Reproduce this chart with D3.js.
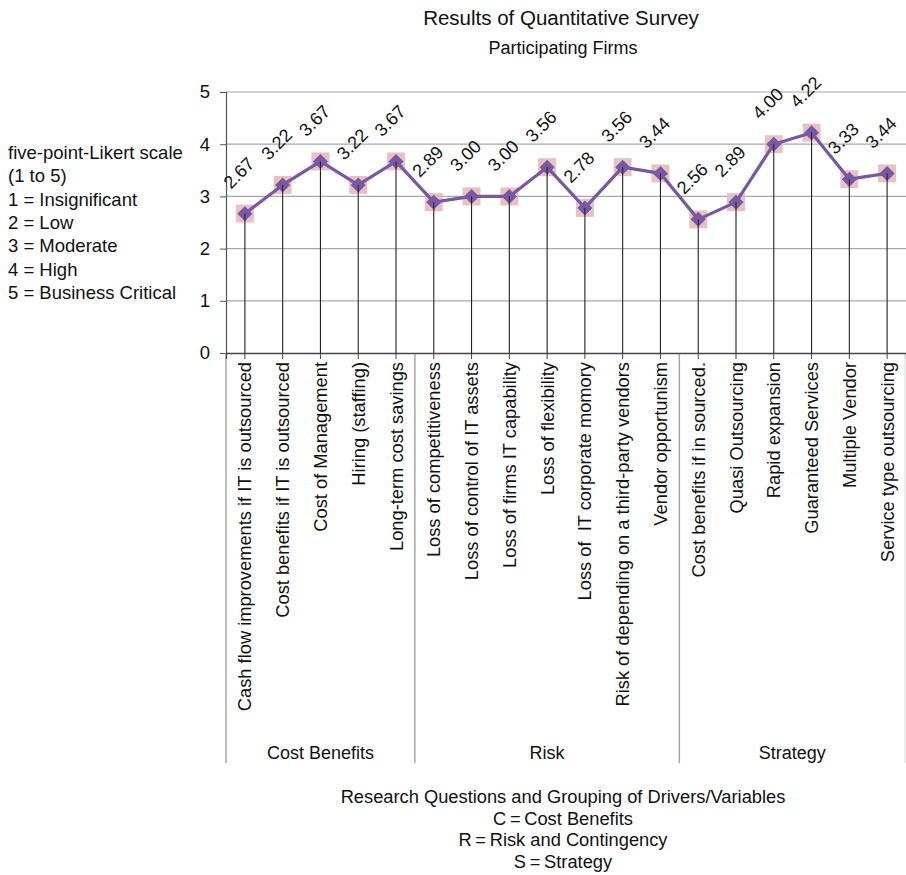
<!DOCTYPE html>
<html>
<head>
<meta charset="utf-8">
<script src="https://cdn.jsdelivr.net/npm/d3@7"></script>
<style>
  html, body { margin: 0; padding: 0; background: #fff; }
  svg { display: block; font-family: "Liberation Sans", Arial, Helvetica, sans-serif; }
</style>
</head>
<body>
<svg id="chart" width="906" height="875"></svg>
<script>
// Survey drivers, their mean scores and the groups they belong to
const categories = [
  "Cash flow improvements if IT is outsourced",
  "Cost benefits if IT is outsourced",
  "Cost of Management",
  "Hiring (staffing)",
  "Long-term cost savings",
  "Loss of competitiveness",
  "Loss of control of IT assets",
  "Loss of firms IT capability",
  "Loss of flexibility",
  "Loss of  IT corporate momory",
  "Risk of depending on a third-party vendors",
  "Vendor opportunism",
  "Cost benefits if in sourced.",
  "Quasi Outsourcing",
  "Rapid expansion",
  "Guaranteed Services",
  "Multiple Vendor",
  "Service type outsourcing"
];
const scores = [2.67, 3.22, 3.67, 3.22, 3.67, 2.89, 3.00, 3.00, 3.56, 2.78, 3.56, 3.44, 2.56, 2.89, 4.00, 4.22, 3.33, 3.44];
const groupNames = ["Cost Benefits", "Risk", "Strategy"];
const groupSizes = [5, 7, 6];
const yTicks = [0, 1, 2, 3, 4, 5];
const legendLines = [
  "five-point-Likert scale",
  "(1 to 5)",
  "1 = Insignificant",
  "2 = Low",
  "3 = Moderate",
  "4 = High",
  "5 = Business Critical"
];
const titleText = "Results of Quantitative Survey";
const subtitleText = "Participating Firms";
const footerLines = [
  "Research Questions and Grouping of Drivers/Variables",
  "C\u2009=\u2009Cost Benefits",
  "R\u2009=\u2009Risk and Contingency",
  "S\u2009=\u2009Strategy"
];

const svg = d3.select("#chart");
const plot = { left: 226, right: 906, top: 92, bottom: 353 };
const groupBottom = 763;
const lineColor = "#7658a3";
const textColor = "#111";

const x = d3.scaleBand().domain(d3.range(categories.length))
  .range([plot.left, plot.right]).paddingInner(0).paddingOuter(0);
const cx = i => x(i) + x.bandwidth() / 2;
const y = d3.scaleLinear().domain([0, 5]).range([plot.bottom, plot.top]);

// Titles
svg.append("text").attr("x", 561).attr("y", 25).attr("text-anchor", "middle")
  .attr("font-size", 20.5).attr("fill", textColor).text(titleText);
svg.append("text").attr("x", 563).attr("y", 54).attr("text-anchor", "middle")
  .attr("font-size", 18).attr("fill", textColor).text(subtitleText);

// Horizontal gridlines
svg.append("g").selectAll("line").data(yTicks.filter(d => d > 0)).join("line")
  .attr("x1", plot.left).attr("x2", plot.right)
  .attr("y1", d => y(d)).attr("y2", d => y(d))
  .attr("stroke", "#a8a8a8").attr("stroke-width", 1.2);

// Y axis
const yAxis = svg.append("g").attr("transform", `translate(${plot.left},0)`)
  .call(d3.axisLeft(y).tickValues(yTicks).tickFormat(d3.format("d")).tickSize(6).tickPadding(10));
yAxis.select(".domain").attr("stroke", "#555").attr("stroke-width", 1.2);
yAxis.selectAll(".tick line").attr("stroke", "#555");
yAxis.selectAll(".tick text").attr("font-size", 18.5).attr("fill", textColor)
  .attr("font-family", "Liberation Sans, Arial, sans-serif");

// Group separators below the axis
let acc = 0;
const bounds = [0];
groupSizes.forEach(s => { acc += s; bounds.push(acc); });
const boundX = b => b < categories.length ? x(b) : plot.right - 1;
svg.append("g").selectAll("line").data(bounds).join("line")
  .attr("x1", boundX).attr("x2", boundX)
  .attr("y1", plot.bottom).attr("y2", groupBottom)
  .attr("stroke", (d, i) => i === bounds.length - 1 ? "#e6e6e6" : "#a8a8a8")
  .attr("stroke-width", 1.5);

// Group labels
svg.append("g").selectAll("text").data(groupNames).join("text")
  .attr("x", (d, i) => (boundX(bounds[i]) + boundX(bounds[i + 1])) / 2)
  .attr("y", 759).attr("text-anchor", "middle").attr("font-size", 18).attr("fill", textColor)
  .text(d => d);

// X axis with ticks at category centres
const xAxis = svg.append("g").attr("transform", `translate(0,${plot.bottom})`)
  .call(d3.axisBottom(x).tickSize(6).tickFormat(""));
xAxis.select(".domain").attr("stroke", "#444").attr("stroke-width", 1.3);
xAxis.selectAll(".tick line").attr("stroke", "#444");

// Rotated category labels
svg.append("g").selectAll("text").data(categories).join("text")
  .attr("transform", (d, i) => `translate(${cx(i) + 6.5},${plot.bottom + 9}) rotate(-90)`)
  .attr("text-anchor", "end").attr("font-size", 18.3).attr("fill", textColor)
  .style("white-space", "pre")
  .text(d => d);

// Drop lines from each point to the axis
svg.append("g").selectAll("line").data(scores).join("line")
  .attr("x1", (d, i) => cx(i)).attr("x2", (d, i) => cx(i))
  .attr("y1", d => y(d)).attr("y2", plot.bottom)
  .attr("stroke", "#222").attr("stroke-width", 1.1);

// Pink square halo behind markers
svg.append("g").selectAll("rect").data(scores).join("rect")
  .attr("x", (d, i) => cx(i) - 9).attr("y", d => y(d) - 9)
  .attr("width", 18).attr("height", 18)
  .attr("fill", "#e3b6b8").attr("opacity", 0.85);

// Score line
const line = d3.line().x((d, i) => cx(i)).y(d => y(d));
svg.append("path").datum(scores).attr("d", line)
  .attr("fill", "none").attr("stroke", lineColor).attr("stroke-width", 3.2)
  .attr("stroke-linejoin", "round");

// Diamond markers
svg.append("g").selectAll("path").data(scores).join("path")
  .attr("transform", (d, i) => `translate(${cx(i)},${y(d)})`)
  .attr("d", "M0,-7.5L7.5,0L0,7.5L-7.5,0Z")
  .attr("fill", lineColor);

// Drop line segment visible over the marker's lower half
svg.append("g").selectAll("line").data(scores).join("line")
  .attr("x1", (d, i) => cx(i)).attr("x2", (d, i) => cx(i))
  .attr("y1", d => y(d)).attr("y2", d => y(d) + 9)
  .attr("stroke", "#222").attr("stroke-width", 1);

// Value labels, rotated 45 degrees
svg.append("g").selectAll("text").data(scores).join("text")
  .attr("transform", (d, i) => `translate(${cx(i) - 14},${y(d) - 24}) rotate(-45)`)
  .attr("font-size", 18).attr("fill", textColor)
  .text(d => d.toFixed(2));

// Likert scale legend
svg.append("g").selectAll("text").data(legendLines).join("text")
  .attr("x", 8).attr("y", (d, i) => 159 + i * 23.3)
  .attr("font-size", 18.5).attr("fill", textColor).text(d => d);

// Footer
svg.append("g").selectAll("text").data(footerLines).join("text")
  .attr("x", 563).attr("y", (d, i) => 803 + i * 21.7)
  .attr("text-anchor", "middle").attr("font-size", 18.3).attr("fill", textColor).text(d => d);
</script>
</body>
</html>
